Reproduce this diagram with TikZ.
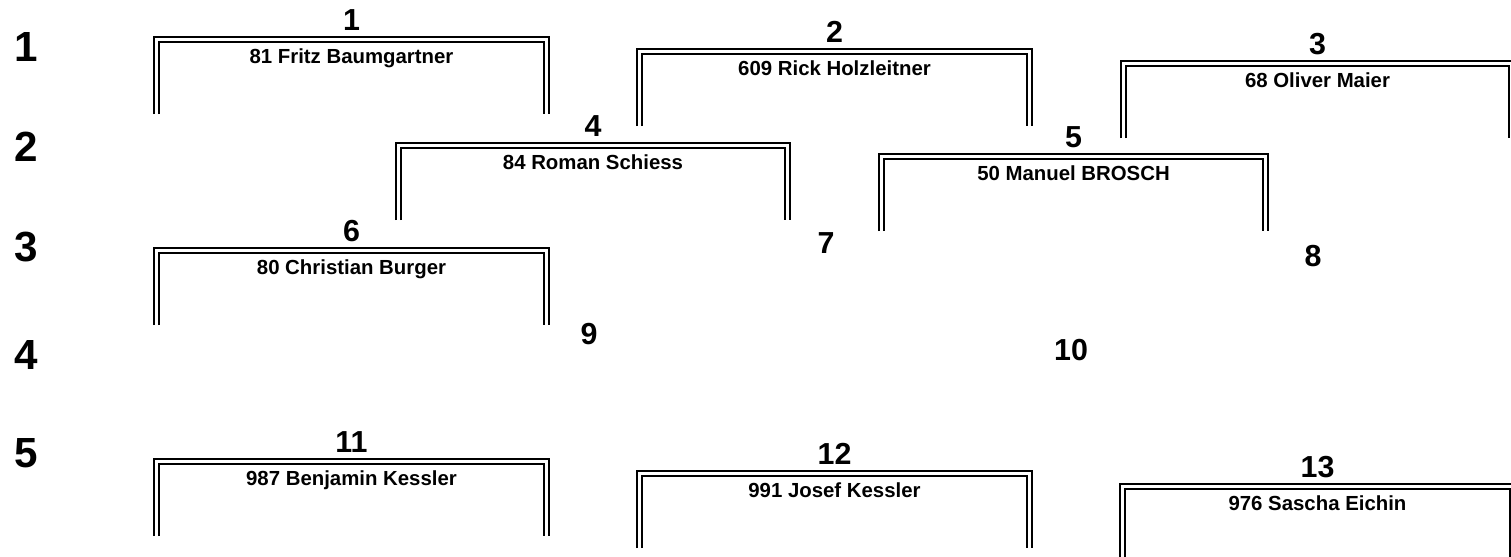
\documentclass[tikz,border=0pt]{standalone}
\usepackage{fontspec}
\setmainfont{Liberation Sans}
\usetikzlibrary{positioning}
\tikzset{
  rowlbl/.style={font=\fontsize{24}{27}\selectfont\bfseries, inner sep=0pt},
  seatnum/.style={font=\fontsize{17.3}{20}\selectfont\bfseries, inner sep=0pt, anchor=base},
  player/.style={font=\fontsize{11.6}{13}\selectfont\bfseries, inner sep=0pt, anchor=base},
  outerln/.style={line width=1.5pt},
  innerln/.style={line width=1.25pt},
}

\begin{document}
\begin{tikzpicture}[x=0.02cm, y=-0.02cm]
  \useasboundingbox (0,0) rectangle (1511,556);
  \clip (0,0) rectangle (1511,556);
  % round numbers down the left
  \foreach \r/\ry in {1/47,2/147,3/247,4/355,5/453}
    \node[rowlbl] (row\r) at (26,\ry) {\r};
  % heats: left x / top y / width / seat / player
  \foreach \hx/\hy/\hw/\s/\p in {
      154/37/395/1/81 Fritz Baumgartner,
      637/49/395/2/609 Rick Holzleitner,
      1121/61/393/3/68 Oliver Maier,
      396/143/394/4/84 Roman Schiess,
      879/154/389/5/50 Manuel BROSCH,
      154/248/395/6/80 Christian Burger,
      154/459/395/11/987 Benjamin Kessler,
      637/471/395/12/991 Josef Kessler,
      1120/484/395/13/976 Sascha Eichin}{
    \draw[outerln] (\hx,\hy+77) |- (\hx+\hw,\hy) -- (\hx+\hw,\hy+77);
    \draw[innerln] (\hx+5,\hy+77) |- (\hx+\hw-5,\hy+5) -- (\hx+\hw-5,\hy+77);
    \node[seatnum] (seat\s) at (\hx+\hw/2,\hy-7) {\s};
    \node[player] (heat\s) at (\hx+\hw/2,\hy+26) {\p};
  }
  % seats with nobody in them
  \node[seatnum] (seat7) at (826,253) {7};
  \node[seatnum] (seat8) at (1313,266) {8};
  \node[seatnum] (seat9) at (589,344) {9};
  \node[seatnum] (seat10) at (1071,360) {10};
\end{tikzpicture}
\end{document}
